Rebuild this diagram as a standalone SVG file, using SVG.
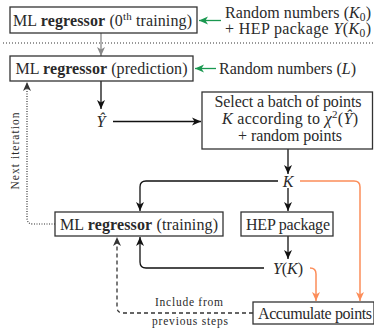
<svg xmlns="http://www.w3.org/2000/svg" width="374" height="328" viewBox="0 0 374 328">
<defs>
<style>
text{font-family:"Liberation Serif","DejaVu Serif",serif;fill:#2a2a2a;font-size:16px}
.m{text-anchor:middle}
.b{font-weight:bold}
.i{font-style:italic}
.s{font-size:11.5px}
.box{fill:#fff;stroke:#333;stroke-width:1.3}
.k{fill:none;stroke:#111;stroke-width:1.3}
.g{fill:none;stroke:#1a9850;stroke-width:1.3}
.o{fill:none;stroke:#fc8d59;stroke-width:1.5}
.gr{fill:none;stroke:#888;stroke-width:1.3}
</style>
<marker id="ak" viewBox="-10 -5 12 10" refX="0" refY="0" markerWidth="12" markerHeight="10" markerUnits="userSpaceOnUse" orient="auto"><path d="M0,0 L-9,-4 L-6.5,0 L-9,4 Z" fill="#111"/></marker>
<marker id="ag" viewBox="-10 -5 12 10" refX="0" refY="0" markerWidth="12" markerHeight="10" markerUnits="userSpaceOnUse" orient="auto"><path d="M0,0 L-9,-4 L-6.5,0 L-9,4 Z" fill="#1a9850"/></marker>
<marker id="ao" viewBox="-10 -5 12 10" refX="0" refY="0" markerWidth="12" markerHeight="10" markerUnits="userSpaceOnUse" orient="auto"><path d="M0,0 L-9,-4 L-6.5,0 L-9,4 Z" fill="#fc8d59"/></marker>
<marker id="agr" viewBox="-10 -5 12 10" refX="0" refY="0" markerWidth="12" markerHeight="10" markerUnits="userSpaceOnUse" orient="auto"><path d="M0,0 L-9,-4 L-6.5,0 L-9,4 Z" fill="#888"/></marker>
<marker id="ad" viewBox="-10 -5 12 10" refX="0" refY="0" markerWidth="12" markerHeight="10" markerUnits="userSpaceOnUse" orient="auto"><path d="M0,0 L-9,-4 L-6.5,0 L-9,4 Z" fill="#333"/></marker>
</defs>

<g id="connectors">
<line x1="3" y1="43" x2="373" y2="43" stroke="#333" stroke-width="1.2" stroke-dasharray="1,2"/>
<path class="g" d="M221,20.5 H199" marker-end="url(#ag)"/>
<path class="g" d="M216,68.5 H195" marker-end="url(#ag)"/>
<path class="gr" d="M101,33 V56" marker-end="url(#agr)"/>
<path class="k" d="M101,81 V109" marker-end="url(#ak)"/>
<path class="k" d="M113,121.5 H201" marker-end="url(#ak)"/>
<path class="k" d="M288,149 V174" marker-end="url(#ak)"/>
<path class="k" d="M278,181 H146 Q140,181 140,187 V211" marker-end="url(#ak)"/>
<path class="k" d="M288,188 V211" marker-end="url(#ak)"/>
<path class="k" d="M288,236 V259" marker-end="url(#ak)"/>
<path class="k" d="M264,268 H146 Q140,268 140,262 V237" marker-end="url(#ak)"/>
<path class="o" d="M300,181 H354 Q360,181 360,187 V301" marker-end="url(#ao)"/>
<path class="o" d="M310,268 Q316,268 316,274 V301" marker-end="url(#ao)"/>
<path d="M253,313 H123 Q117,313 117,307 V237" fill="none" stroke="#333" stroke-width="1.3" stroke-dasharray="4,3" marker-end="url(#ad)"/>
<path d="M55,224 H33 Q27,224 27,218 V82" fill="none" stroke="#333" stroke-width="1.2" stroke-dasharray="1,1.5" marker-end="url(#ad)"/>
<text class="s m" x="189" y="306" textLength="68">Include from</text>
<text class="s m" x="190" y="325" textLength="76">previous steps</text>
<text class="s m" transform="translate(19,151) rotate(-90)" textLength="77">Next iteration</text>
</g>

<g id="n-train0">
<rect class="box" x="10" y="7" width="187" height="26"/>
<text x="13" y="25.5" textLength="179">ML <tspan class="b">regressor</tspan> (0<tspan font-size="11" dy="-6">th</tspan><tspan dy="6"> training)</tspan></text>
</g>
<g id="n-input0">
<text x="225" y="18" textLength="146">Random numbers (<tspan class="i">K</tspan><tspan font-size="11.5" dy="3">0</tspan><tspan dy="-3">)</tspan></text>
<text x="225" y="34" textLength="146">+ HEP package <tspan class="i">Y</tspan>(<tspan class="i">K</tspan><tspan font-size="11.5" dy="3">0</tspan><tspan dy="-3">)</tspan></text>
</g>
<g id="n-predict">
<rect class="box" x="10" y="56" width="183" height="25"/>
<text x="15.5" y="74" textLength="172">ML <tspan class="b">regressor</tspan> (prediction)</text>
</g>
<g id="n-randL">
<text x="219" y="74" textLength="137">Random numbers (<tspan class="i">L</tspan>)</text>
</g>
<g id="n-yhat">
<text class="m i" x="101" y="127">Ŷ</text>
</g>
<g id="n-select">
<rect class="box" x="202" y="92" width="170.5" height="57"/>
<text x="214.5" y="107" textLength="147">Select a batch of points</text>
<text x="222" y="124" textLength="136"><tspan class="i">K</tspan> according to <tspan class="i">χ</tspan><tspan font-size="11" dy="-6">2</tspan><tspan dy="6">(</tspan><tspan class="i">Ŷ</tspan>)</text>
<text x="238" y="141" textLength="104">+ random points</text>
</g>
<g id="n-K">
<text class="m i" x="288" y="186.5">K</text>
</g>
<g id="n-train">
<rect class="box" x="55" y="212" width="168" height="24"/>
<text x="60" y="229.5" textLength="158">ML <tspan class="b">regressor</tspan> (training)</text>
</g>
<g id="n-hep">
<rect class="box" x="241" y="212" width="92" height="24"/>
<text x="246" y="229.5" textLength="84">HEP package</text>
</g>
<g id="n-YK">
<text class="m" x="288" y="273.5"><tspan class="i">Y</tspan>(<tspan class="i">K</tspan>)</text>
</g>
<g id="n-accum">
<rect class="box" x="253" y="302" width="121" height="22"/>
<text x="258" y="318.5" textLength="114">Accumulate points</text>
</g>
</svg>
